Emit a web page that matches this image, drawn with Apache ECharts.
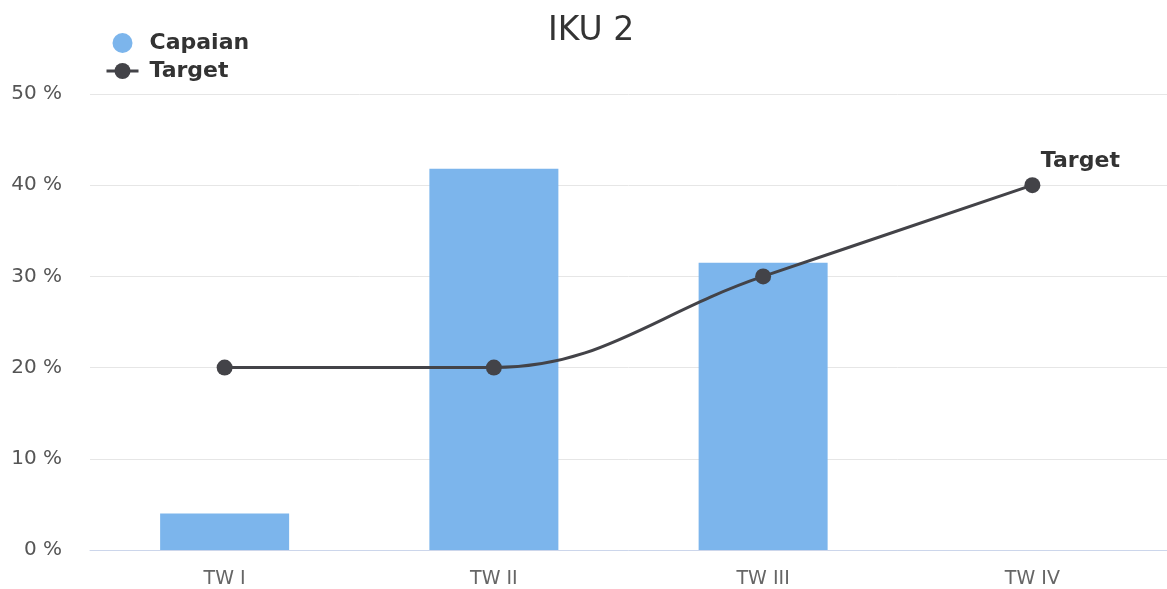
<!DOCTYPE html>
<html><head><meta charset="utf-8">
<script src="https://cdn.jsdelivr.net/npm/echarts@6/dist/echarts.min.js"></script>
<style>html,body{margin:0;padding:0;background:#fff}#c{width:1167px;height:589px}</style>
</head><body><div id="c"></div>
<script>
const categories = ['TW I', 'TW II', 'TW III', 'TW IV'];
const capaian = [4, 41.8, 31.5, null];
const target = [20, 20, 30, 40];
const yTicks = [0, 10, 20, 30, 40, 50];

const chart = echarts.init(document.getElementById('c'), null, {renderer: 'canvas'});
const font = 'DejaVu Sans, Verdana, sans-serif';

// Highcharts-style spline path through pixel points
function splinePath(pts) {
  const s = 1.5, d = s + 1;
  let path = '';
  const rc = [];
  for (let i = 0; i < pts.length; i++) {
    const [px, py] = pts[i];
    let lcx = px, lcy = py;
    if (i > 0 && i < pts.length - 1) {
      const [lx, ly] = pts[i - 1], [nx, ny] = pts[i + 1];
      lcx = (s * px + lx) / d; lcy = (s * py + ly) / d;
      let rcx = (s * px + nx) / d, rcy = (s * py + ny) / d;
      if (rcx !== lcx) {
        const corr = ((rcy - lcy) * (rcx - px)) / (rcx - lcx) + py - rcy;
        lcy += corr; rcy += corr;
      }
      if (lcy > ly && lcy > py) { lcy = Math.max(ly, py); rcy = 2 * py - lcy; }
      else if (lcy < ly && lcy < py) { lcy = Math.min(ly, py); rcy = 2 * py - lcy; }
      if (rcy > ny && rcy > py) { rcy = Math.max(ny, py); lcy = 2 * py - rcy; }
      else if (rcy < ny && rcy < py) { rcy = Math.min(ny, py); lcy = 2 * py - rcy; }
      rc[i] = [rcx, rcy];
    }
    if (i === 0) path += 'M' + px + ' ' + py;
    else {
      const prev = rc[i - 1] || pts[i - 1];
      path += ' C' + prev[0] + ' ' + prev[1] + ' ' + lcx + ' ' + lcy + ' ' + px + ' ' + py;
    }
  }
  return path;
}

chart.setOption({
  animation: false,
  title: {
    text: 'IKU 2', left: 543, top: 10,
    textStyle: {fontFamily: font, fontSize: 33, fontWeight: 'normal', color: '#333333'}
  },
  legend: {
    orient: 'vertical', left: 100, top: 27, itemGap: 6,
    itemWidth: 32, itemHeight: 20,
    textStyle: {fontFamily: font, fontSize: 22, fontWeight: 'bold', color: '#333333', padding: [0, 0, 0, 6]},
    data: [
      {name: 'Capaian', icon: 'circle'},
      {name: 'Target', lineStyle: {width: 3, color: '#434348', opacity: 1}}
    ]
  },
  grid: {left: 90, width: 1082, top: 94, height: 458, containLabel: false},
  xAxis: {
    type: 'category', data: categories,
    axisLine: {lineStyle: {color: '#ccd6eb', width: 1}},
    axisTick: {show: false},
    axisLabel: {fontFamily: font, fontSize: 19, color: '#666666', margin: 20}
  },
  yAxis: {
    type: 'value', min: yTicks[0], max: yTicks[yTicks.length - 1], interval: 10,
    axisLabel: {fontFamily: font, fontSize: 20, color: '#555555', formatter: '{value} %', margin: 28},
    splitLine: {lineStyle: {color: '#e6e6e6', width: 1}},
    axisLine: {show: false}, axisTick: {show: false}
  },
  series: [
    {
      name: 'Capaian', type: 'bar', data: capaian, barWidth: 129, z: 2,
      itemStyle: {color: '#7cb5ec'}
    },
    {
      name: 'TargetCurve', type: 'custom', coordinateSystem: 'cartesian2d',
      data: target.map((v, i) => [i, v]),
      encode: {x: 0, y: 1}, silent: true, z: 5,
      renderItem: function (params, api) {
        if (params.dataIndex !== 0) return null;
        const pts = target.map((v, i) => api.coord([i, v]));
        return {
          type: 'path', z2: 10,
          shape: {pathData: splinePath(pts)},
          style: {stroke: '#434348', lineWidth: 3, fill: 'none'}
        };
      }
    },
    {
      name: 'Target', type: 'line', z: 6,
      data: target.map((v, i) => i === target.length - 1 ? {
        value: v,
        label: {show: true, formatter: 'Target', position: 'top', offset: [48, 0],
          fontFamily: font, fontSize: 22, fontWeight: 'bold', color: '#333333'}
      } : v),
      symbol: 'circle', symbolSize: 16,
      lineStyle: {color: '#434348', width: 0},
      itemStyle: {color: '#434348'}
    }
  ]
});
</script></body></html>
